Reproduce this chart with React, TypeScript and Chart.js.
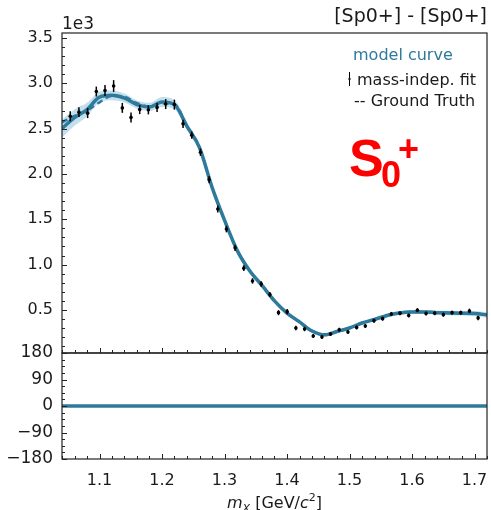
import React, { useEffect, useRef } from 'react';
import { Chart, registerables } from 'chart.js';

Chart.register(...registerables);

// ---------------- data ----------------
// mass-independent fit points (x in GeV/c^2, intensity)
const fitMass = [1.0532, 1.0671, 1.081, 1.0949, 1.1088, 1.1226, 1.1365, 1.1504, 1.1643, 1.1782, 1.1921, 1.2059, 1.2198, 1.2337, 1.2476, 1.2615, 1.2754, 1.2893, 1.3031, 1.317, 1.3309, 1.3448, 1.3587, 1.3726, 1.3864, 1.4003, 1.4142, 1.4281, 1.442, 1.4559, 1.4697, 1.4836, 1.4975, 1.5114, 1.5253, 1.5392, 1.553, 1.5669, 1.5808, 1.5947, 1.6086, 1.6225, 1.6363, 1.6502, 1.6641, 1.678, 1.6919, 1.7058];
const fitValue = [2636, 2682, 2671, 2909, 2920, 2970, 2729, 2624, 2710, 2707, 2734, 2771, 2765, 2553, 2428, 2240, 1937, 1613, 1392, 1185, 961, 820, 787, 671, 470, 481, 301, 290, 213, 202, 235, 282, 257, 307, 323, 382, 404, 456, 464, 439, 497, 461, 464, 448, 470, 470, 489, 412];
const fitError = [55, 55, 55, 55, 60, 65, 55, 55, 50, 50, 50, 55, 55, 45, 40, 40, 40, 38, 36, 34, 32, 30, 30, 28, 28, 28, 25, 25, 22, 22, 22, 22, 22, 22, 22, 22, 22, 22, 22, 22, 22, 22, 22, 22, 22, 22, 25, 25];

// model curve grid
const modelMass = [1.04, 1.06, 1.08, 1.1, 1.12, 1.14, 1.16, 1.18, 1.2, 1.22, 1.24, 1.26, 1.28, 1.3, 1.32, 1.34, 1.36, 1.38, 1.4, 1.42, 1.44, 1.46, 1.48, 1.5, 1.52, 1.54, 1.56, 1.58, 1.6, 1.62, 1.64, 1.66, 1.68, 1.7, 1.72];
const modelValue = [2500, 2622, 2710, 2848, 2867, 2837, 2765, 2740, 2795, 2765, 2525, 2290, 1855, 1490, 1160, 935, 770, 600, 465, 368, 268, 226, 262, 301, 356, 395, 439, 467, 478, 478, 470, 467, 463, 461, 445];
const modelSpread = [100, 90, 75, 60, 55, 50, 45, 45, 55, 50, 40, 30, 25, 25, 22, 20, 20, 18, 18, 18, 18, 18, 18, 18, 18, 18, 20, 20, 20, 22, 22, 25, 25, 28, 30];
const truthValue = [2570, 2640, 2700, 2790, 2860, 2850, 2780, 2745, 2780, 2770, 2530, 2290, 1855, 1490, 1160, 935, 770, 600, 465, 368, 268, 226, 262, 301, 356, 395, 439, 467, 478, 478, 470, 467, 463, 461, 450];
const phaseValue = [0, 0, 0, 0, 0, 0, 0, 0, 0, 0, 0, 0, 0, 0, 0, 0, 0, 0, 0, 0, 0, 0, 0, 0, 0, 0, 0, 0, 0, 0, 0, 0, 0, 0, 0];

// ticks
const xTicks = [1.1, 1.2, 1.3, 1.4, 1.5, 1.6, 1.7];
const xMinorTicks = [1.04, 1.06, 1.08, 1.12, 1.14, 1.16, 1.18, 1.22, 1.24, 1.26, 1.28, 1.32, 1.34, 1.36, 1.38, 1.42, 1.44, 1.46, 1.48, 1.52, 1.54, 1.56, 1.58, 1.62, 1.64, 1.66, 1.68, 1.72];
const yTicks = [500, 1000, 1500, 2000, 2500, 3000, 3500];
const yMinorTicks = [100, 200, 300, 400, 600, 700, 800, 900, 1100, 1200, 1300, 1400, 1600, 1700, 1800, 1900, 2100, 2200, 2300, 2400, 2600, 2700, 2800, 2900, 3100, 3200, 3300, 3400, 3600];
const phaseTicks = [-180, -90, 0, 90, 180];
const phaseMinorTicks = [-157.5, -135, -112.5, -67.5, -45, -22.5, 22.5, 45, 67.5, 112.5, 135, 157.5];

const X_MIN = 1.04;
const X_MAX = 1.72;
const Y_MIN = 25;
const Y_MAX = 3555;

const LINE = '#2e7a9c';
const BAND = 'rgba(125,185,212,0.45)';
const FONT = "'DejaVu Sans', sans-serif";
const INK = '#1a1a1a';

const decorPlugin = {
  id: 'decor',
  afterDatasetsDraw(chart: any) {
    const { ctx } = chart;
    const xs = chart.scales.x;
    const ys = chart.scales.y;
    ctx.save();
    ctx.strokeStyle = '#000';
    ctx.lineWidth = 1.5;
    for (let i = 0; i < fitMass.length; i++) {
      const px = xs.getPixelForValue(fitMass[i]);
      const y1 = ys.getPixelForValue(fitValue[i] - fitError[i]);
      const y2 = ys.getPixelForValue(fitValue[i] + fitError[i]);
      ctx.beginPath();
      ctx.moveTo(px, y1);
      ctx.lineTo(px, y2);
      ctx.stroke();
    }
    ctx.restore();
  },
  afterDraw(chart: any) {
    const { ctx } = chart;
    const xs = chart.scales.x;
    const ys = chart.scales.y;
    const yp = chart.scales.yPhase;
    const left = xs.left;
    const right = xs.right;
    ctx.save();
    // spines
    ctx.strokeStyle = '#222';
    ctx.lineWidth = 1.2;
    ctx.strokeRect(left, ys.top, right - left, ys.bottom - ys.top);
    ctx.strokeRect(left, yp.top, right - left, yp.bottom - yp.top);

    // inward ticks
    ctx.lineWidth = 1;
    const vTick = (scale: any, values: number[], len: number) => {
      for (const v of values) {
        const py = Math.round(scale.getPixelForValue(v)) + 0.5;
        if (py < scale.top - 0.5 || py > scale.bottom + 0.5) continue;
        ctx.beginPath();
        ctx.moveTo(left, py);
        ctx.lineTo(left + len, py);
        ctx.stroke();
      }
    };
    const hTick = (bottom: number, values: number[], len: number) => {
      for (const v of values) {
        const px = Math.round(xs.getPixelForValue(v)) + 0.5;
        ctx.beginPath();
        ctx.moveTo(px, bottom);
        ctx.lineTo(px, bottom - len);
        ctx.stroke();
      }
    };
    vTick(ys, yTicks, 5);
    vTick(ys, yMinorTicks, 3);
    vTick(yp, phaseTicks, 5);
    vTick(yp, phaseMinorTicks, 3);
    hTick(ys.bottom, xTicks, 5);
    hTick(ys.bottom, xMinorTicks, 3);
    hTick(yp.bottom, xTicks, 5);
    hTick(yp.bottom, xMinorTicks, 3);

    // texts
    ctx.fillStyle = INK;
    ctx.textBaseline = 'alphabetic';
    ctx.font = `17px ${FONT}`;
    ctx.textAlign = 'left';
    ctx.fillText('1e3', left, 29);

    ctx.font = `19px ${FONT}`;
    ctx.textAlign = 'right';
    ctx.fillText('[Sp0+] - [Sp0+]', right, 22);

    // legend
    ctx.font = `16px ${FONT}`;
    ctx.textAlign = 'left';
    ctx.fillStyle = LINE;
    ctx.fillText('model curve', 353, 60);
    ctx.fillStyle = INK;
    ctx.fillText('mass-indep. fit', 357, 85);
    ctx.fillText('-- Ground Truth', 354, 106);
    ctx.strokeStyle = '#000';
    ctx.lineWidth = 1;
    ctx.beginPath();
    ctx.moveTo(349.5, 72);
    ctx.lineTo(349.5, 86);
    ctx.stroke();
    ctx.beginPath();
    ctx.arc(349.5, 79, 1.2, 0, Math.PI * 2);
    ctx.fill();

    // S_0^+ label
    ctx.fillStyle = '#ff0000';
    ctx.font = `bold 52px 'Liberation Sans', Arial, sans-serif`;
    ctx.fillText('S', 349, 176);
    ctx.font = `bold 36px 'Liberation Sans', Arial, sans-serif`;
    ctx.fillText('0', 381, 187);
    ctx.fillText('+', 398, 161);

    // x axis title: m_X [GeV/c^2]
    ctx.fillStyle = INK;
    const parts = [
      { t: 'm', f: `italic 16px ${FONT}`, dy: 0 },
      { t: 'X', f: `italic 11px ${FONT}`, dy: 4 },
      { t: ' [GeV/', f: `16px ${FONT}`, dy: 0 },
      { t: 'c', f: `italic 16px ${FONT}`, dy: 0 },
      { t: '2', f: `11px ${FONT}`, dy: -7 },
      { t: ']', f: `16px ${FONT}`, dy: 0 },
    ];
    let total = 0;
    for (const p of parts) {
      ctx.font = p.f;
      total += ctx.measureText(p.t).width;
    }
    let cx = (left + right) / 2 - total / 2;
    const base = 508;
    ctx.textAlign = 'left';
    for (const p of parts) {
      ctx.font = p.f;
      ctx.fillText(p.t, cx, base + p.dy);
      cx += ctx.measureText(p.t).width;
    }
    ctx.restore();
  },
};

export default function App() {
  const ref = useRef<HTMLCanvasElement>(null);
  useEffect(() => {
    const canvas = ref.current;
    if (!canvas) return;
    const model = modelMass.map((x, i) => ({ x, y: modelValue[i] }));
    const chart = new Chart(canvas, {
      type: 'line',
      data: {
        datasets: [
          {
            type: 'scatter',
            label: 'mass-indep. fit',
            data: fitMass.map((x, i) => ({ x, y: fitValue[i] })),
            yAxisID: 'y',
            pointRadius: 1.8,
            pointBackgroundColor: '#000',
            pointBorderWidth: 0,
            showLine: false,
          } as any,
          {
            label: 'Ground Truth',
            data: modelMass.map((x, i) => ({ x, y: truthValue[i] })),
            yAxisID: 'y',
            borderColor: LINE,
            borderWidth: 2.5,
            borderDash: [6, 4],
            pointRadius: 0,
            cubicInterpolationMode: 'monotone',
            fill: false,
          },
          {
            label: 'model curve',
            data: model,
            yAxisID: 'y',
            borderColor: LINE,
            borderWidth: 3.5,
            pointRadius: 0,
            cubicInterpolationMode: 'monotone',
            fill: false,
          },
          {
            label: 'phase',
            data: modelMass.map((x, i) => ({ x, y: phaseValue[i] })),
            yAxisID: 'yPhase',
            borderColor: LINE,
            borderWidth: 3.5,
            pointRadius: 0,
            fill: false,
          },
          {
            label: 'band upper',
            data: modelMass.map((x, i) => ({ x, y: modelValue[i] + modelSpread[i] })),
            yAxisID: 'y',
            borderWidth: 0,
            borderColor: 'rgba(0,0,0,0)',
            backgroundColor: BAND,
            pointRadius: 0,
            cubicInterpolationMode: 'monotone',
            fill: '+1',
          },
          {
            label: 'band lower',
            data: modelMass.map((x, i) => ({ x, y: modelValue[i] - modelSpread[i] })),
            yAxisID: 'y',
            borderWidth: 0,
            borderColor: 'rgba(0,0,0,0)',
            pointRadius: 0,
            cubicInterpolationMode: 'monotone',
            fill: false,
          },
        ],
      },
      options: {
        responsive: false,
        devicePixelRatio: 1,
        animation: false,
        layout: { padding: { top: 33, right: 3, left: 0, bottom: 0 } },
        plugins: { legend: { display: false }, tooltip: { enabled: false } },
        scales: {
          x: {
            type: 'linear',
            position: 'bottom',
            min: X_MIN,
            max: X_MAX,
            afterBuildTicks: (s: any) => { s.ticks = xTicks.map((v) => ({ value: v })); },
            afterFit: (s: any) => { s.height = 51; s.paddingLeft = 0; s.paddingRight = 0; },
            grid: { display: false, drawTicks: false },
            border: { display: false },
            ticks: {
              color: INK,
              font: { family: FONT, size: 16 },
              padding: 12,
              maxRotation: 0,
              autoSkip: false,
              callback: (v: any) => Number(v).toFixed(1),
            },
          },
          y: {
            type: 'linear',
            position: 'left',
            stack: 'panels',
            stackWeight: 320,
            weight: 2,
            min: Y_MIN,
            max: Y_MAX,
            afterBuildTicks: (s: any) => { s.ticks = yTicks.map((v) => ({ value: v })); },
            afterFit: (s: any) => { s.width = 62; s.paddingTop = 0; s.paddingBottom = 0; },
            grid: { display: false, drawTicks: false },
            border: { display: false },
            ticks: {
              color: INK,
              font: { family: FONT, size: 16 },
              padding: 9,
              autoSkip: false,
              callback: (v: any) => (Number(v) / 1000).toFixed(1),
            },
          },
          yPhase: {
            type: 'linear',
            position: 'left',
            stack: 'panels',
            stackWeight: 106,
            weight: 1,
            min: -180,
            max: 180,
            afterBuildTicks: (s: any) => { s.ticks = phaseTicks.map((v) => ({ value: v })); },
            afterFit: (s: any) => { s.width = 62; s.paddingTop = 0; s.paddingBottom = 0; },
            grid: { display: false, drawTicks: false },
            border: { display: false },
            ticks: {
              color: INK,
              font: { family: FONT, size: 17 },
              padding: 9,
              autoSkip: false,
              callback: (v: any) => String(v).replace('-', '\u2212'),
            },
          },
        },
      } as any,
      plugins: [decorPlugin],
    });
    return () => chart.destroy();
  }, []);
  return (
    <div style={{ position: 'fixed', left: 0, top: 0, width: 491, height: 510, background: '#fff' }}>
      <canvas ref={ref} width={491} height={510} style={{ width: 491, height: 510, display: 'block' }} />
    </div>
  );
}
